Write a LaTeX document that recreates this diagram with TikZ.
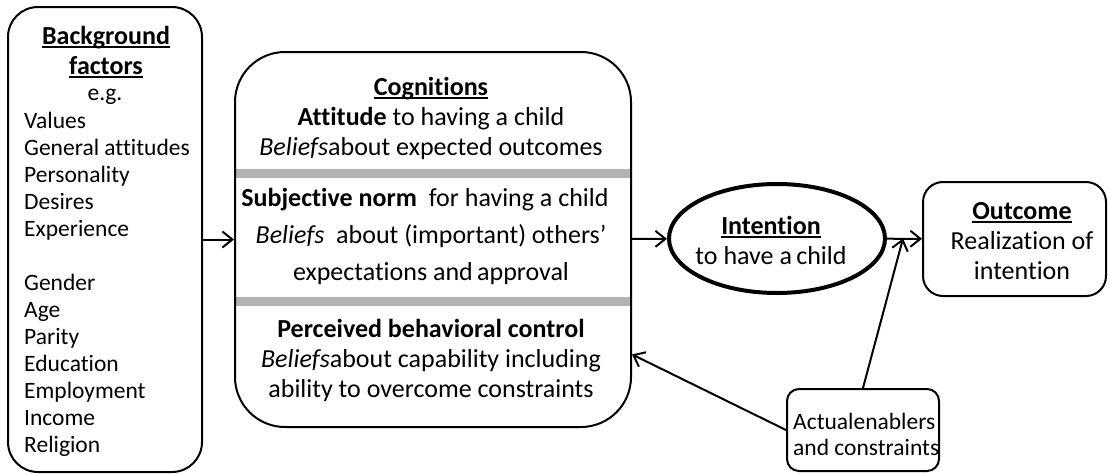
\documentclass[tikz,border=0pt]{standalone}
\usepackage{fontspec}
\setmainfont{Carlito}[Ligatures=NoCommon]
\usetikzlibrary{arrows.meta, shapes.geometric}

% bold heading with a heavy underline
\newcommand{\uhead}[1]{\textbf{\setbox0\hbox{#1}\rlap{\rule[-4pt]{\wd0}{2.2pt}}\box0}}

\tikzset{
  box/.style={draw, line width=2pt, rounded corners=#1},
  arr/.style={-{Straight Barb[length=10pt,width=16pt]}, line width=2pt},
  big/.style={inner sep=0pt, align=center, font=\fontsize{26}{30}\selectfont},
  small/.style={inner sep=0pt, align=left, font=\fontsize{23.5}{27}\selectfont},
}

\begin{document}
\begin{tikzpicture}[x=1pt, y=-1pt]
\useasboundingbox (0,0) rectangle (1109,474);

% background factors
\node[box=30pt, minimum width=194pt, minimum height=465pt] (bg) at (105,239.5) {};
\node[big] (bghead) at (106,52) {\uhead{Background}\\ \uhead{factors}};
\node[small, align=center] (bgeg) at (105,97) {e.g.};
\node[small, anchor=west] (bglist) at (24,284.5) {Values\\ General attitudes\\ Personality\\ Desires\\ Experience\\[27pt]
Gender\\ Age\\ Parity\\ Education\\ Employment\\ Income\\ Religion};

% cognitions, split in three by grey bars
\fill[gray!60] (236,168.5) rectangle (631,177.5);
\fill[gray!60] (236,296.5) rectangle (631,305.5);
\node[box=50pt, minimum width=396pt, minimum height=375pt] (cog) at (433,239.5) {};
\node[big] (att) at (431,118) {\uhead{Cognitions}\\ \textbf{Attitude} to having a child\\ \textit{Beliefs}about expected outcomes};
\node[big, font=\fontsize{26}{37}\selectfont] (norm) at (431,236.5) {\textbf{Subjective norm}\hspace{6pt} for having a child\hspace*{12pt}\\ \textit{Beliefs}\ \ about (important) others’\\ expectations and\,approval};
\node[big] (pbc) at (431,360) {\textbf{Perceived behavioral control}\\ \textit{Beliefs}about capability including\\ ability to overcome constraints};

% intention
\node[draw, ellipse, line width=4pt, minimum width=216pt, minimum height=109pt] (int) at (777,238.5) {};
\node[big] (inttext) at (771,240) {\uhead{Intention}\\ to have a\,child};

% outcome
\node[box=20pt, minimum width=183pt, minimum height=114pt] (out) at (1014.5,239) {};
\node[big] (outtext) at (1022,241) {\uhead{Outcome}\\ Realization of\\ intention};

% actual enablers
\node[box=12pt, minimum width=152pt, minimum height=82pt] (enab) at (863,430) {};
\node[small, font=\fontsize{23.5}{26}\selectfont, anchor=west] (enabtext) at (793,434) {Actualenablers\\ and constraints};

\draw[arr] (bg) -- (cog);
\draw[arr] (cog) -- (int);
\draw[arr] (int) -- (out);
\coordinate (meet) at (903,238.5); % joins the intention arrow
\draw[arr] (enab.north) -- (meet);
\draw[arr] (enab.west) -- (cog.-30.9);

\end{tikzpicture}
\end{document}
